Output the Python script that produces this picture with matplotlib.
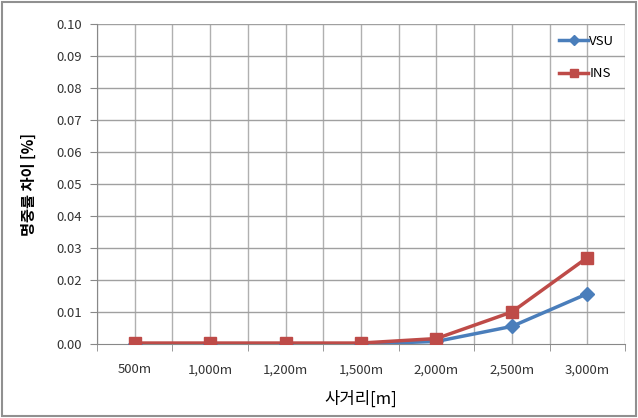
import matplotlib.pyplot as plt
import numpy as np
from matplotlib.patches import Rectangle

plt.rcParams['font.family'] = ['Noto Sans CJK KR', 'DejaVu Sans']

ranges = ['500m', '1,000m', '1,200m', '1,500m', '2,000m', '2,500m', '3,000m']
vsu = [0.0, 0.0, 0.0, 0.0, 0.0008, 0.0055, 0.0157]
ins = [0.0003, 0.0003, 0.0003, 0.0003, 0.0017, 0.0100, 0.0270]

fig = plt.figure(figsize=(6.38, 4.18), dpi=100)
ax = fig.add_axes([97 / 638, 1 - 344 / 418, (625 - 97) / 638, (344 - 24) / 418])

x = np.arange(len(ranges))
ax.plot(x, vsu, color='#4a7ebb', lw=2.5, marker='D', ms=7, label='VSU', zorder=3)
ax.plot(x, ins, color='#be4b48', lw=2.5, marker='s', ms=9, label='INS', zorder=4)

ax.set_xlim(-0.5, len(ranges) - 0.5)
ax.set_ylim(0, 0.10)
ax.set_yticks(np.arange(0, 0.1001, 0.01))
ax.set_yticklabels(['%.2f' % v for v in np.arange(0, 0.1001, 0.01)], fontsize=9.5, color='#333333')
ax.set_xticks(x)
ax.set_xticklabels(ranges, fontsize=9.5, color='#333333')
ax.set_xticks(np.arange(-0.5, len(ranges), 1.0), minor=True)
ax.tick_params(axis='x', which='major', length=0, pad=14)
ax.tick_params(axis='x', which='minor', length=5, color='#888888')
ax.tick_params(axis='y', length=5, color='#888888', pad=6)

for v in np.arange(-0.5, len(ranges), 0.5):
    ax.axvline(v, color='#b0b0b0', lw=1, zorder=1)
for v in np.arange(0.01, 0.1001, 0.01):
    ax.axhline(v, color='#a0a0a0', lw=1, zorder=1)

for s in ['top', 'right']:
    ax.spines[s].set_visible(False)
ax.spines['left'].set_color('#888888')
ax.spines['bottom'].set_color('#888888')
ax.spines['left'].set_zorder(2)

ax.set_ylabel('명중률 차이 [%]', fontsize=11, fontweight='bold', labelpad=14)
ax.set_xlabel('사거리[m]', fontsize=12, labelpad=10)

leg = ax.legend(loc='upper right', frameon=False, fontsize=9.5, handlelength=2.2,
                handletextpad=0.1, labelspacing=1.5, borderaxespad=0.4, markerscale=0.7)

fig.patches.append(Rectangle((0.003, 0.005), 0.994, 0.99, transform=fig.transFigure,
                             fill=False, edgecolor='#909090', lw=1.5))

fig.savefig('out.png', dpi=100)
